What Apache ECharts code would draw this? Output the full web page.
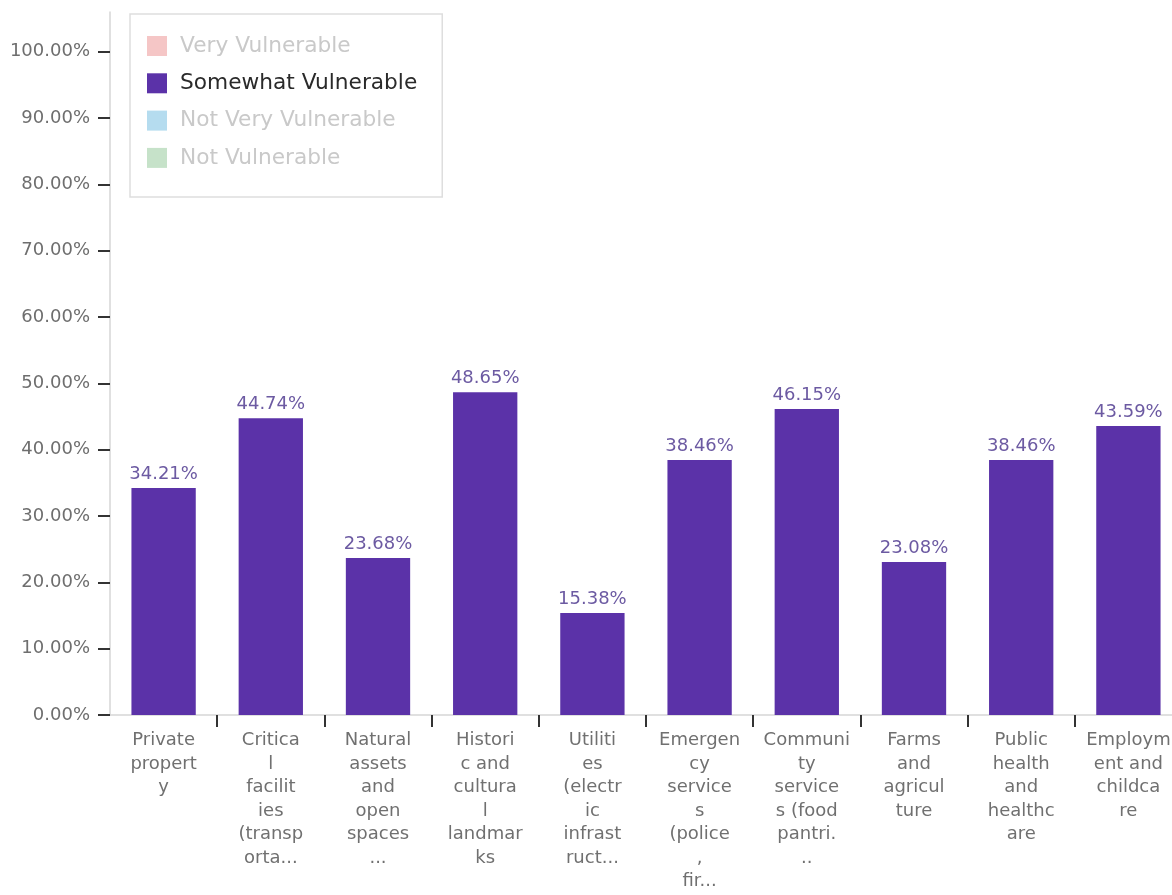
<!DOCTYPE html>
<html>
<head>
<meta charset="utf-8">
<script src="https://cdn.jsdelivr.net/npm/echarts@6/dist/echarts.min.js"></script>
<style>
html,body{margin:0;padding:0;background:#fff;}
#chart{width:1172px;height:895px;}
</style>
</head>
<body>
<div id="chart"></div>
<script>
// ---- data ----
const categoryLabels = [
  "Private\npropert\ny",
  "Critica\nl\nfacilit\nies\n(transp\norta...",
  "Natural\nassets\nand\nopen\nspaces\n...",
  "Histori\nc and\ncultura\nl\nlandmar\nks",
  "Utiliti\nes\n(electr\nic\ninfrast\nruct...",
  "Emergen\ncy\nservice\ns\n(police\n,\nfir...",
  "Communi\nty\nservice\ns (food\npantri.\n..",
  "Farms\nand\nagricul\nture",
  "Public\nhealth\nand\nhealthc\nare",
  "Employm\nent and\nchildca\nre"
];
const seriesNames = ["Very Vulnerable", "Somewhat Vulnerable", "Not Very Vulnerable", "Not Vulnerable"];
const somewhatValues = [34.21, 44.74, 23.68, 48.65, 15.38, 38.46, 46.15, 23.08, 38.46, 43.59];
const yTickValues = [0, 10, 20, 30, 40, 50, 60, 70, 80, 90, 100];

const FONT = "DejaVu Sans";
const legendIconColors = ["#f5c6c6", "#5b32a8", "#b5dcef", "#c6e2c9"];
const legendTextColors = ["#c9c9c9", "#2a2a2a", "#c9c9c9", "#c9c9c9"];

const chart = echarts.init(document.getElementById('chart'), null, {renderer: 'canvas'});

const series = seriesNames.map((name, i) => ({
  name: name,
  type: 'bar',
  stack: 'all',
  barCategoryGap: '40%',
  data: i === 1 ? somewhatValues : [],
  itemStyle: {color: i === 1 ? '#5b32a8' : legendIconColors[i]},
  label: {
    show: i === 1,
    position: 'top',
    distance: 5,
    color: '#6c5aa2',
    fontFamily: FONT,
    fontSize: 18,
    formatter: p => p.value.toFixed(2) + '%'
  },
  emphasis: {disabled: true}
}));

chart.setOption({
  backgroundColor: '#ffffff',
  animation: false,
  textStyle: {fontFamily: FONT},
  legend: {
    orient: 'vertical',
    left: 130,
    top: 14,
    padding: [21, 25, 28, 17],
    itemWidth: 20,
    itemHeight: 20,
    itemGap: 15.3,
    borderColor: '#dedede',
    borderWidth: 1.5,
    selectedMode: false,
    icon: 'rect',
    textStyle: {fontFamily: FONT, fontSize: 21.7, lineHeight: 20, padding: [0, 0, 0, 8]},
    data: seriesNames.map((n, i) => ({
      name: n,
      itemStyle: {color: legendIconColors[i]},
      textStyle: {color: legendTextColors[i]}
    }))
  },
  grid: {
    left: 110,
    width: 1072,
    top: 12,
    bottom: 180,
    containLabel: false,
    outerBoundsMode: 'none'
  },
  xAxis: {
    type: 'category',
    data: categoryLabels,
    axisLine: {show: true, lineStyle: {color: '#d6d6d6', width: 1.5}},
    axisTick: {
      show: true,
      length: 12,
      interval: (i) => i !== 0,
      lineStyle: {color: '#333333', width: 2}
    },
    axisLabel: {
      interval: 0,
      margin: 14,
      color: '#707070',
      fontFamily: FONT,
      fontSize: 18,
      lineHeight: 23.5,
      align: 'center'
    },
    splitLine: {show: false}
  },
  yAxis: {
    type: 'value',
    min: 0,
    max: 106,
    axisLine: {show: true, lineStyle: {color: '#d6d6d6', width: 1.5}},
    axisTick: {
      show: true,
      length: 12,
      customValues: yTickValues,
      lineStyle: {color: '#333333', width: 2}
    },
    axisLabel: {
      customValues: yTickValues,
      margin: 20,
      color: '#6e6e6e',
      fontFamily: FONT,
      fontSize: 18,
      formatter: v => v.toFixed(2) + '%'
    },
    splitLine: {show: false}
  },
  series: series
});
</script>
</body>
</html>
